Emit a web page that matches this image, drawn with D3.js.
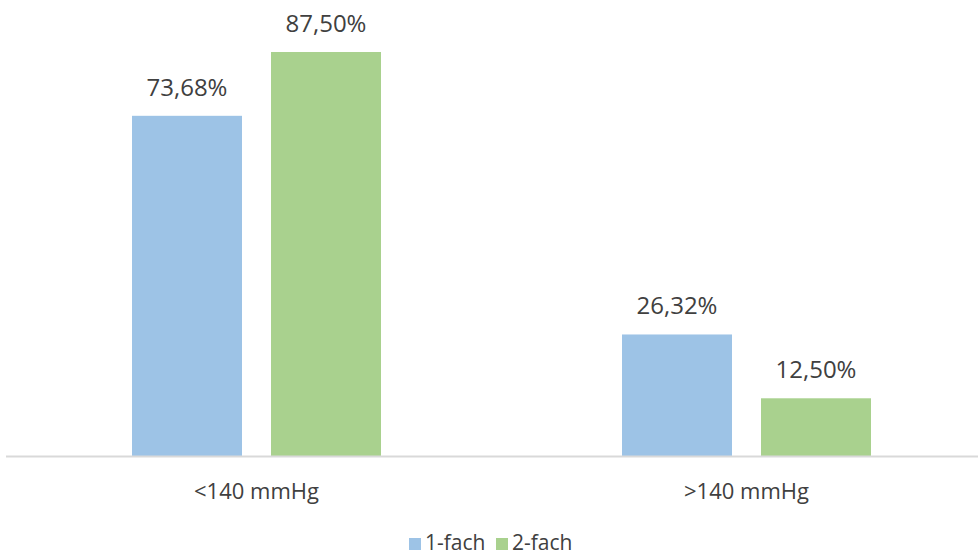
<!DOCTYPE html>
<html>
<head>
<meta charset="utf-8">
<script src="https://cdn.jsdelivr.net/npm/d3@7"></script>
<style>
  html, body { margin: 0; padding: 0; background: #fff; }
  svg { display: block; }
  text { font-family: "Open Sans", sans-serif; fill: #404040; }
</style>
</head>
<body>
<svg id="chart" width="978" height="556"></svg>
<script>
// Blood pressure groups and share of patients per series (percent)
const categories = ["<140 mmHg", ">140 mmHg"];
const seriesNames = ["1-fach", "2-fach"];
const values1fach = [73.68, 26.32];
const values2fach = [87.50, 12.50];
const seriesColors = ["#9dc3e6", "#a9d18e"];

const seriesValues = [values1fach, values2fach];
const rows = categories.map((c, i) => ({
  category: c,
  values: seriesNames.map((s, k) => ({ series: s, k, value: seriesValues[k][i] }))
}));

const svg = d3.select("#chart");
const baseline = 456;

const x0 = d3.scaleBand().domain(categories).range([11.5, 991.5]).paddingInner(0).paddingOuter(0);
const groupW = 249;
const x1 = d3.scaleBand().domain(seriesNames).range([0, groupW]).paddingInner(29 / 139).paddingOuter(0);
const y = d3.scaleLinear().domain([0, 87.5]).range([baseline, 52]);

const fmt = v => v.toFixed(2).replace(".", ",") + "%";

const groups = svg.selectAll("g.group").data(rows).join("g")
  .attr("class", "group")
  .attr("transform", d => `translate(${x0(d.category) + (x0.bandwidth() - groupW) / 2},0)`);

groups.selectAll("rect").data(d => d.values).join("rect")
  .attr("x", d => x1(d.series))
  .attr("y", d => y(d.value))
  .attr("width", x1.bandwidth())
  .attr("height", d => baseline - y(d.value))
  .attr("fill", d => seriesColors[d.k]);

groups.selectAll("text.val").data(d => d.values).join("text")
  .attr("class", "val")
  .attr("x", d => x1(d.series) + x1.bandwidth() / 2)
  .attr("y", d => y(d.value) - 20)
  .attr("text-anchor", "middle")
  .style("font-size", "24px")
  .text(d => fmt(d.value));

// Category axis
const axis = svg.append("g").attr("transform", `translate(0,${baseline})`)
  .call(d3.axisBottom(x0).tickSize(0).tickPadding(27));
axis.select(".domain").attr("stroke", "#d9d9d9").attr("stroke-width", 2)
  .attr("d", "M6,0.5H978");
axis.selectAll(".tick text")
  .style("font-family", "'Open Sans', sans-serif")
  .style("font-size", "22px").attr("fill", "#404040");

// Legend
const legendItems = [{ name: seriesNames[0], x: 409 }, { name: seriesNames[1], x: 496 }];
const legend = svg.append("g");
legendItems.forEach((it, k) => {
  legend.append("rect").attr("x", it.x).attr("y", 538).attr("width", 12).attr("height", 12)
    .attr("fill", seriesColors[k]);
  legend.append("text").attr("x", it.x + 16).attr("y", 550)
    .style("font-size", "21px").text(it.name);
});
</script>
</body>
</html>
